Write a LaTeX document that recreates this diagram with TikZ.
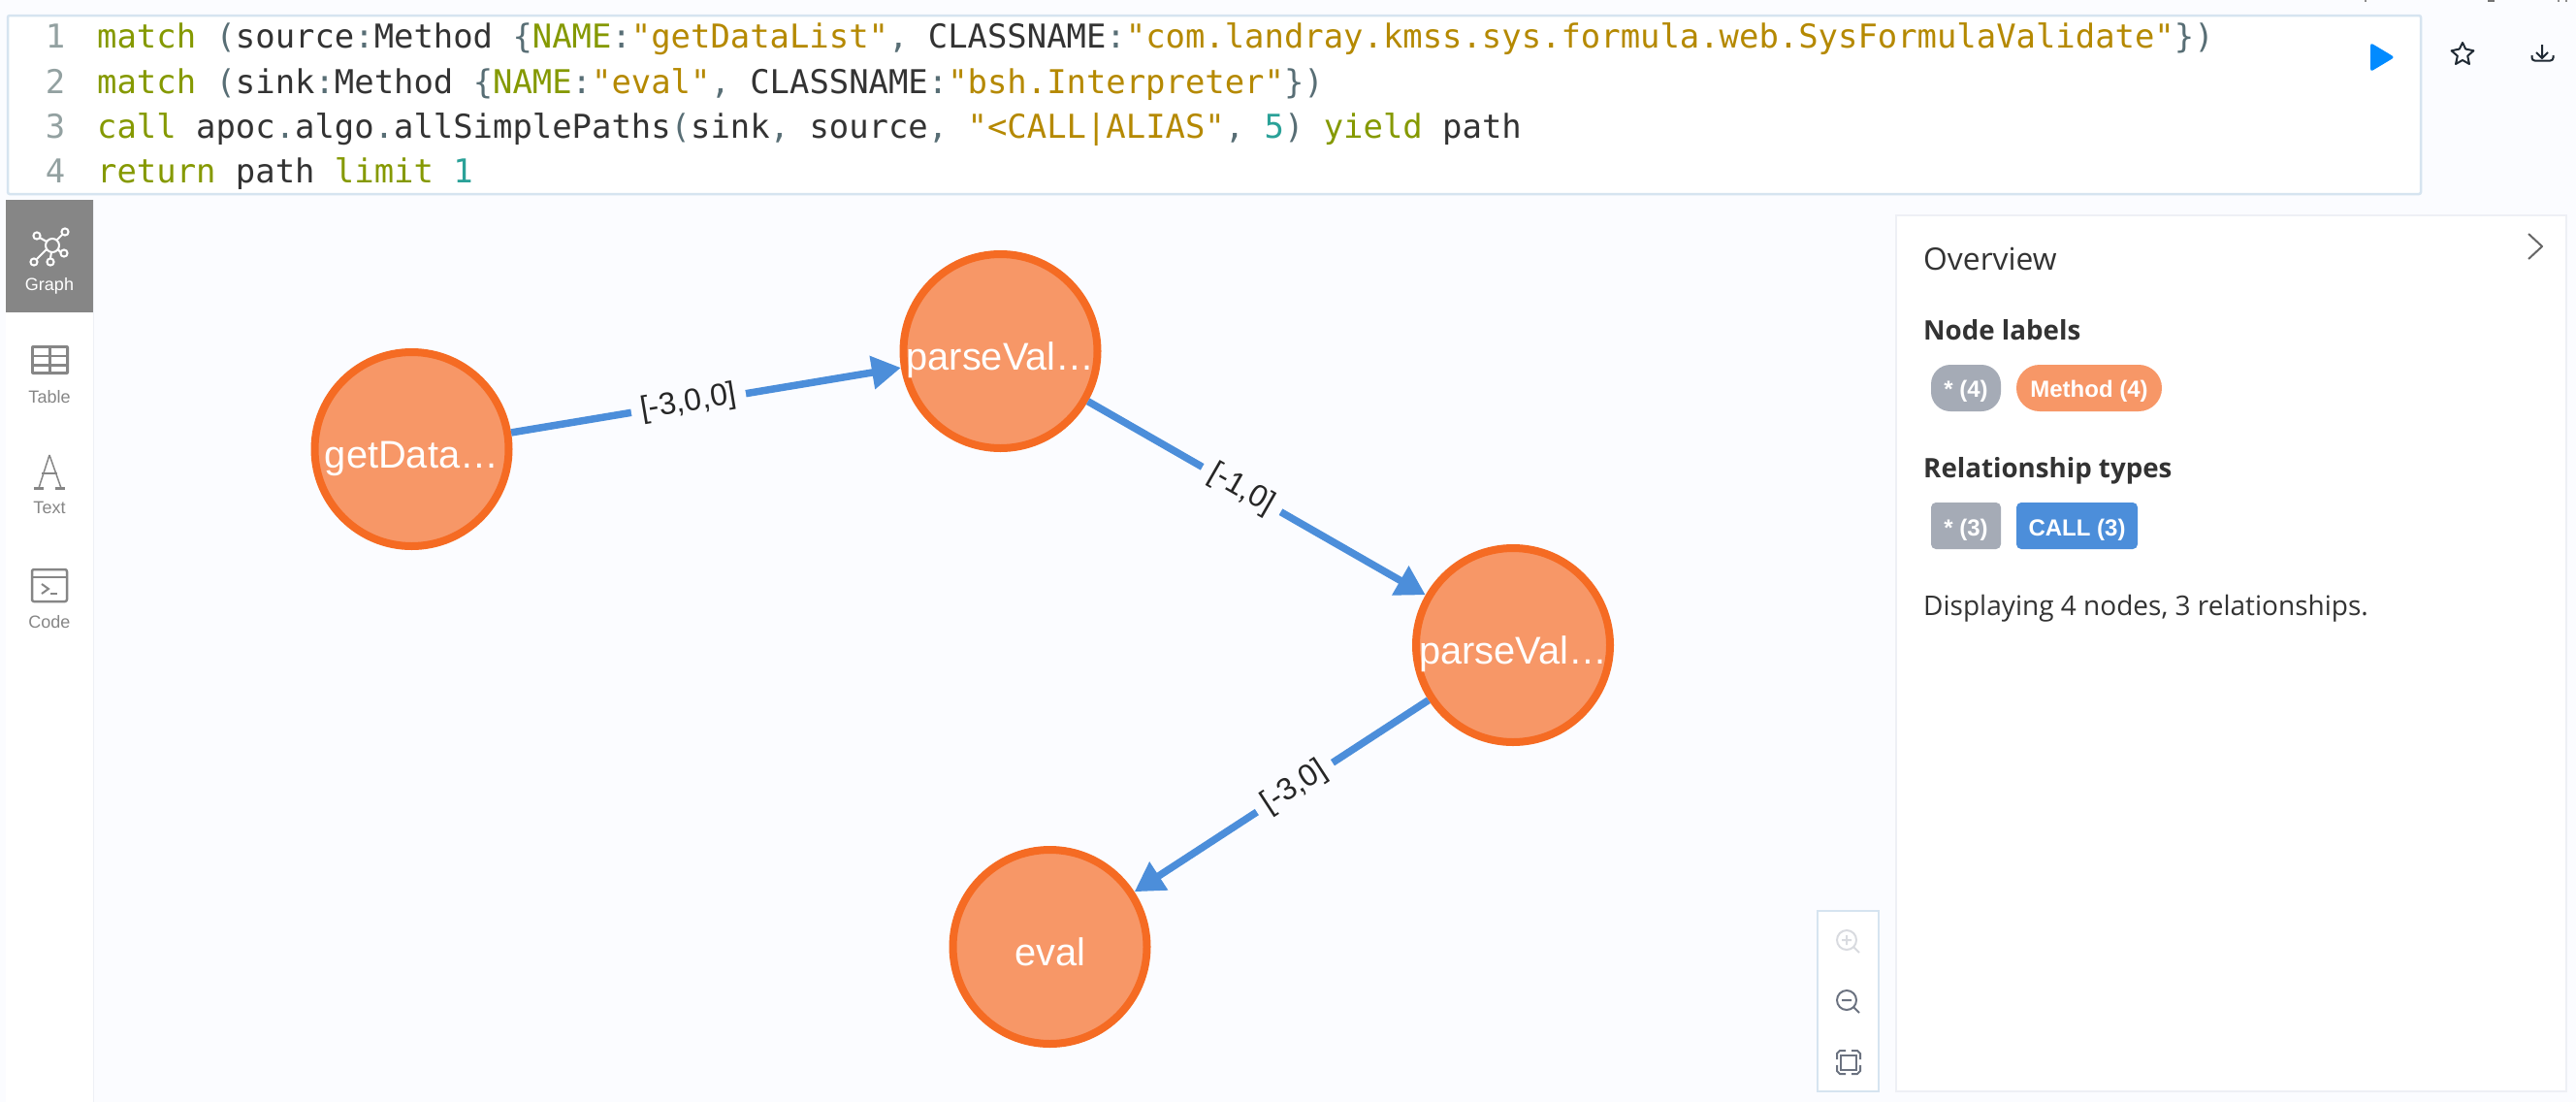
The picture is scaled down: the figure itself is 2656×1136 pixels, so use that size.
\documentclass[tikz,border=0pt]{standalone}
\usepackage{fontspec}
\setmainfont{Open Sans}
\newfontfamily\helv{Liberation Sans}
\newfontfamily\codefont{DejaVu Sans Mono}
\usetikzlibrary{arrows.meta}
\definecolor{pagebg}{HTML}{FBFCFF}
\definecolor{edgeline}{HTML}{D6E4F0}
\definecolor{panelline}{HTML}{EEF0F5}
\definecolor{kw}{HTML}{859900}
\definecolor{strc}{HTML}{B58900}
\definecolor{punc}{HTML}{586E75}
\definecolor{numc}{HTML}{2AA198}
\definecolor{plain}{HTML}{333333}
\definecolor{lineno}{HTML}{93A1A1}
\definecolor{nodefill}{HTML}{F79767}
\definecolor{nodering}{HTML}{F56B23}
\definecolor{relblue}{HTML}{4C8EDA}
\definecolor{pillgray}{HTML}{A5ABB6}
\definecolor{sidegray}{HTML}{868686}
\definecolor{playblue}{HTML}{018BFF}
\definecolor{iconfaint}{HTML}{D9DBE0}
\definecolor{icondark}{HTML}{6B7280}
\definecolor{toolicon}{HTML}{1F2933}
\newcommand{\KW}[1]{\textcolor{kw}{#1}}
\newcommand{\ST}[1]{\textcolor{strc}{#1}}
\newcommand{\PU}[1]{\textcolor{punc}{#1}}
\newcommand{\NU}[1]{\textcolor{numc}{#1}}
\tikzset{
  x=1pt,y=-1pt,
  codeline/.style={anchor=base west,inner sep=0,text=plain,font=\codefont\fontsize{33.88}{40}\selectfont},
  numline/.style={anchor=base,inner sep=0,text=lineno,font=\codefont\fontsize{33.88}{40}\selectfont},
  gnode/.style={circle,draw=nodering,fill=nodefill,line width=8,minimum size=200,inner sep=0,
    text=white,text height=39,text depth=0,font=\helv\fontsize{39.8}{46}\selectfont},
  rel/.style={draw=relblue,line width=7.5,-{Triangle[length=30pt,width=33pt]}},
  rellabel/.style={pos=0.455,sloped,fill=pagebg,inner xsep=10,inner ysep=3,text=black!85,font=\helv\fontsize{32}{36}\selectfont},
  sidelabel/.style={anchor=base,inner sep=0,text=sidegray,font=\helv\fontsize{18}{22}\selectfont},
  paneltext/.style={anchor=base west,inner sep=0,text=plain},
  headtext/.style={paneltext,font=\bfseries\fontsize{27.7}{32}\selectfont},
  pilltext/.style={anchor=base,inner sep=0,text=white,font=\helv\bfseries\fontsize{24}{28}\selectfont},
  iconline/.style={draw=sidegray,line width=2.5,line join=round},
}
\begin{document}
\begin{tikzpicture}
\useasboundingbox (0,0) rectangle (2656,1136);
\fill[pagebg] (0,0) rectangle (2656,1136);
% cropped icon remnants along the top edge
\fill[black!55] (2565,0) rectangle (2572,2);
\fill[black!45] (2438,0) rectangle (2440,1.5);
\fill[black!45] (2637,0) rectangle (2639,1.5);
\fill[black!45] (2645,0) rectangle (2647,1.5);
% editor
\draw[edgeline,fill=white,line width=2.5,rounded corners=2] (8,16) rectangle (2496,200);
\foreach \nn/\yy in {1/49,2/96,3/142,4/188}{\node[numline] (no\nn) at (57,\yy) {\nn};}
\node[codeline] (code1) at (100,49) {\KW{match} \PU{(}source\PU{:}Method \PU{\{}\KW{NAME}\PU{:}\ST{"getDataList"}\PU{,} CLASSNAME\PU{:}\ST{"com.landray.kmss.sys.formula.web.SysFormulaValidate"}\PU{\})}};
\node[codeline] (code2) at (100,96) {\KW{match} \PU{(}sink\PU{:}Method \PU{\{}\KW{NAME}\PU{:}\ST{"eval"}\PU{,} CLASSNAME\PU{:}\ST{"bsh.Interpreter"}\PU{\})}};
\node[codeline] (code3) at (100,142) {\KW{call} apoc\PU{.}algo\PU{.}allSimplePaths\PU{(}sink\PU{,} source\PU{,} \ST{"<CALL|ALIAS"}\PU{,} \NU{5}\PU{)} \KW{yield} path};
\node[codeline] (code4) at (100,188) {\KW{return} path \KW{limit} \NU{1}};
% editor buttons
\fill[playblue,rounded corners=3] (2444,44) -- (2469,59) -- (2444,74) -- cycle;
\draw[toolicon,line width=2,line join=round] (2539,44) -- (2542.2,50.5) -- (2550.4,52.3) -- (2544.2,57.7) -- (2546,66) -- (2539,62) -- (2532,66) -- (2533.8,57.7) -- (2527.6,52.3) -- (2535.8,50.5) -- cycle;
\draw[toolicon,line width=2] (2621,46) -- (2621,60) (2615,54) -- (2621,60) -- (2627,54);
\draw[toolicon,line width=2,rounded corners=3] (2610.5,57) -- (2610.5,62.5) -- (2632.5,62.5) -- (2632.5,57);
% sidebar
\fill[white] (6,206) rectangle (96,1136);
\draw[panelline,line width=1.5] (96.7,206) -- (96.7,1136);
\fill[sidegray] (6,206) rectangle (96,322);
\begin{scope}[draw=white,line width=2]
\draw (54,253) circle (7);
\foreach \cx/\cy in {38/243,67/239,66/261,52/270,35/270}{\draw (\cx,\cy) circle (3.6);}
\draw (41,245) -- (48,249) (64,242) -- (58,248) (62,260) -- (60,257) (52,266) -- (53,260) (38,267) -- (48,257);
\end{scope}
\node[anchor=base,inner sep=0,text=white,font=\helv\fontsize{18}{22}\selectfont] (tabgraph) at (51,299) {Graph};
\fill[sidegray,rounded corners=2] (32,356) rectangle (71,386);
\foreach \yt/\yb in {359/365.5,368/374.5,377.5/383}{
  \fill[white] (35,\yt) rectangle (50,\yb);
  \fill[white] (52.5,\yt) rectangle (68,\yb);
}
\node[sidelabel] (tabtable) at (51,415) {Table};
\draw[sidegray,line width=1.5] (51,469) -- (40,503) (51,469) -- (63,503);
\draw[sidegray,line width=1.5] (43,488) -- (59,488);
\draw[sidegray,line width=2.2] (35,503.5) -- (45,503.5) (57,503.5) -- (67,503.5);
\node[sidelabel] (tabtext) at (51,529) {Text};
\draw[iconline,rounded corners=2] (33,587) rectangle (69,620);
\draw[iconline] (33,595) -- (69,595);
\draw[sidegray,line width=2] (43,602) -- (50,607) -- (43,612);
\draw[sidegray,line width=2] (52,612) -- (59,612);
\node[sidelabel] (tabcode) at (51,647) {Code};
% graph
\node[gnode] (n1) at (424.5,463) {getData…};
\node[gnode] (n2) at (1031.5,362) {parseVal…};
\node[gnode] (n3) at (1560,665) {parseVal…};
\node[gnode] (n4) at (1082.5,976) {eval};
\draw[rel] (n1) -- node[rellabel] (r1) {[-3,0,0]} (n2);
\draw[rel] (n2) -- node[rellabel] (r2) {[-1,0]} (n3);
\draw[rel] (n3) -- node[rellabel] (r3) {[-3,0]} (n4);
% zoom control
\draw[edgeline,fill=white,line width=2.5] (1874,939) rectangle (1937,1125);
\draw[iconfaint,line width=2] (1904,969) circle (10) (1911.5,976.5) -- (1917,982) (1899,969) -- (1909,969) (1904,964) -- (1904,974);
\draw[icondark,line width=2] (1904,1031) circle (10) (1911.5,1038.5) -- (1917,1044) (1899,1031) -- (1909,1031);
\draw[icondark,line width=2] (1898,1088) rectangle (1914,1103);
\draw[icondark,line width=2] (1894,1092) -- (1894,1086) -- (1897,1083) -- (1903,1083) (1909,1083) -- (1915,1083) -- (1918,1086) -- (1918,1092) (1918,1098) -- (1918,1104) -- (1915,1107) -- (1909,1107) (1903,1107) -- (1897,1107) -- (1894,1104) -- (1894,1098);
% overview panel
\draw[panelline,fill=white,line width=1.5] (1955,222) rectangle (2646,1125);
\draw[black!60,line width=2,line join=round] (2607,241) -- (2621,254) -- (2607,267);
\node[paneltext,font=\fontsize{31.8}{36}\selectfont] (ov) at (1983,278) {Overview};
\node[headtext] (nl) at (1983,350) {Node labels};
\fill[pillgray,rounded corners=20] (1991,376) rectangle (2063,424);
\node[pilltext] (p1) at (2027,409) {* (4)};
\fill[nodefill,rounded corners=23.9] (2079,376) rectangle (2229,424);
\node[pilltext] (p2) at (2154,409) {Method (4)};
\node[headtext] (rt) at (1983,492) {Relationship types};
\fill[pillgray,rounded corners=5] (1991,518) rectangle (2063,566);
\node[pilltext] (p3) at (2027,552) {* (3)};
\fill[relblue,rounded corners=5] (2079,518) rectangle (2204,566);
\node[pilltext] (p4) at (2141.5,552) {CALL (3)};
\node[paneltext,font=\fontsize{28}{33}\selectfont] (disp) at (1983,634) {Displaying 4 nodes, 3 relationships.};
\end{tikzpicture}
\end{document}
